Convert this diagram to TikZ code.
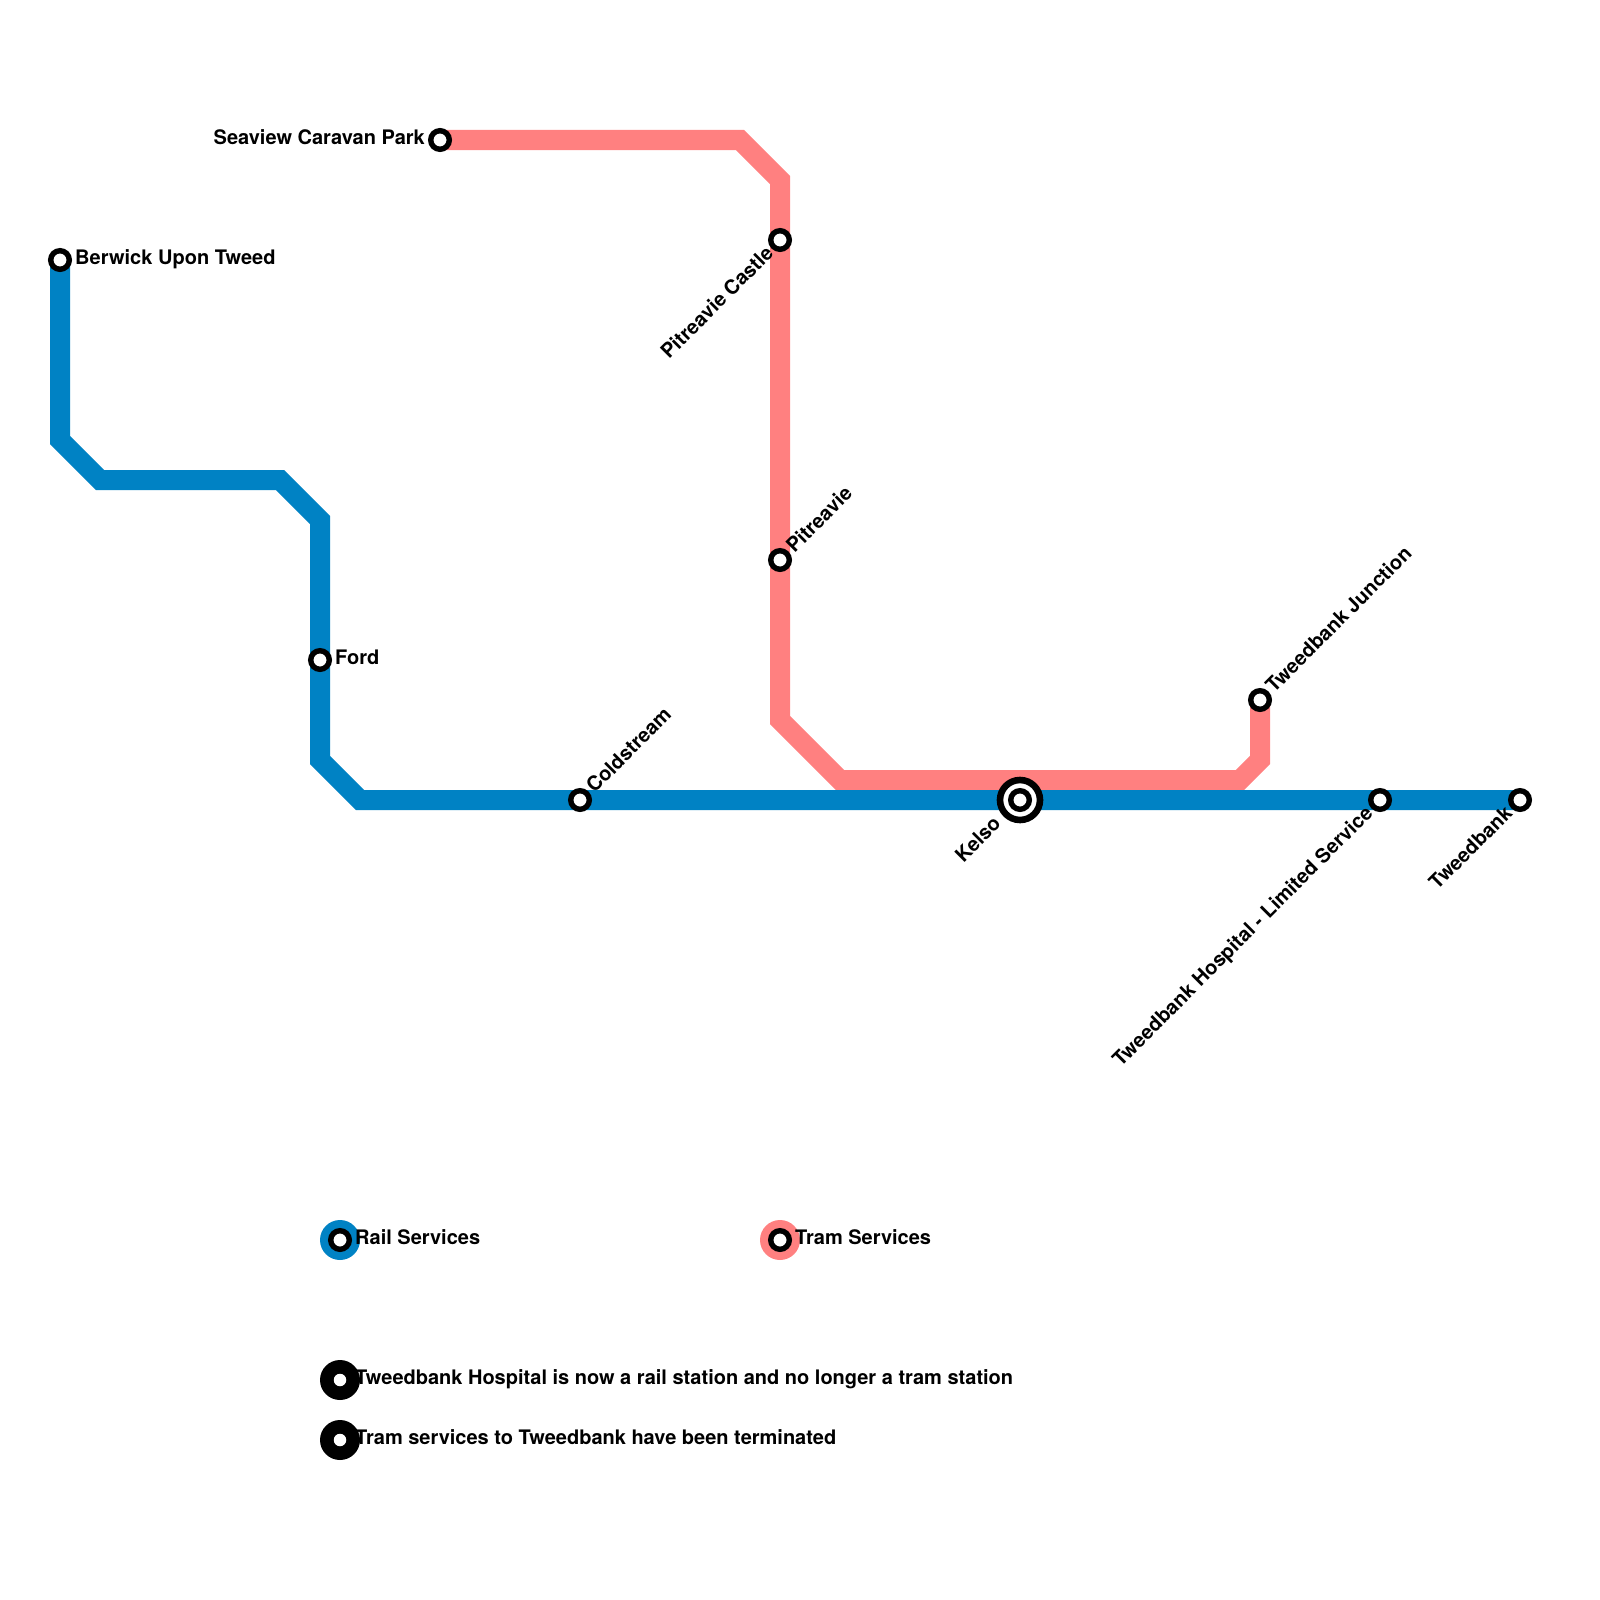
\documentclass[tikz,border=0pt]{standalone}
\usepackage{fontspec}
\setmainfont{TeX Gyre Heros}
\tikzset{
  x=1pt,y=-1pt,
  route/.style={line width=20pt,line join=miter,line cap=butt},
  rail/.style={route,draw=railblue},
  tram/.style={route,draw=trampink},
  station/.style={circle,fill=white,draw=black,line width=5.4pt,minimum size=18.6pt,inner sep=0pt,outer sep=0pt},
  interchange/.style={circle,fill=white,draw=black,line width=6.6pt,minimum size=40pt,inner sep=0pt,outer sep=0pt},
  lab/.style={font=\bfseries\fontsize{20}{22}\selectfont,inner sep=0pt,text=black},
  legdisc/.style={circle,minimum size=40pt,inner sep=0pt,outer sep=0pt},
  legdot/.style={circle,fill=white,minimum size=12.5pt,inner sep=0pt,outer sep=0pt},
}
\definecolor{railblue}{HTML}{0082C4}
\definecolor{trampink}{HTML}{FF8080}
\begin{document}
\begin{tikzpicture}
\useasboundingbox (0,0) rectangle (1600,1600);
\fill[white] (0,0) rectangle (1600,1600);
% tram route
\coordinate (t1) at (740,140);
\coordinate (t2) at (780,180);
\coordinate (t3) at (780,720);
\coordinate (t4) at (840,780);
\coordinate (t5) at (1240,780);
\coordinate (t6) at (1260,760);
\coordinate (seaview) at (440,140);
\coordinate (tj) at (1260,700);
\draw[tram] (seaview) -- (t1) -- (t2) -- (t3) -- (t4) -- (t5) -- (t6) -- (tj);
% rail route
\coordinate (r1) at (60,440);
\coordinate (r2) at (100,480);
\coordinate (r3) at (280,480);
\coordinate (r4) at (320,520);
\coordinate (r5) at (320,760);
\coordinate (r6) at (360,800);
\coordinate (berwick) at (60,260);
\coordinate (tweedbank) at (1520,800);
\draw[rail] (berwick) -- (r1) -- (r2) -- (r3) -- (r4) -- (r5) -- (r6) -- (tweedbank);
% stations
\node[station] (nBerwick) at (berwick) {};
\node[station] (nFord) at (320,660) {};
\node[station] (nCold) at (580,800) {};
\node[station] (nSea) at (seaview) {};
\node[station] (nCastle) at (780,240) {};
\node[station] (nPit) at (780,560) {};
\node[station] (nTJ) at (tj) {};
\node[station] (nHosp) at (1380,800) {};
\node[station] (nTweed) at (tweedbank) {};
\node[interchange] (nKelso) at (1020,800) {};
\node[station] (nKelsoIn) at (1020,800) {};
% labels
\node[lab,anchor=base west] (lBerwick) at (75,264.7) {Berwick Upon Tweed};
\node[lab,anchor=base west] (lFord) at (335,664.7) {Ford};
\node[lab,anchor=base east] (lSea) at (425,144.7) {Seaview Caravan Park};
\node[lab,anchor=base west,rotate=45] (lCold) at (594.5,794) {Coldstream};
\node[lab,anchor=base west,rotate=45] (lPit) at (794.5,554) {Pitreavie};
\node[lab,anchor=base west,rotate=45] (lTJ) at (1274,694) {Tweedbank Junction};
\node[lab,anchor=base east,rotate=45] (lCastle) at (774.5,254.5) {Pitreavie Castle};
\node[lab,anchor=base east,rotate=45] (lKelso) at (1002,825) {Kelso};
\node[lab,anchor=base east,rotate=45] (lHosp) at (1374,814.5) {Tweedbank Hospital - Limited Service};
\node[lab,anchor=base east,rotate=45] (lTweed) at (1513.5,814.5) {Tweedbank};
% legend
\node[legdisc,fill=railblue] (k1) at (340,1240) {};
\node[station] (k1s) at (340,1240) {};
\node[lab,anchor=base west] (k1t) at (355,1244.7) {Rail Services};
\node[legdisc,fill=trampink] (k2) at (780,1240) {};
\node[station] (k2s) at (780,1240) {};
\node[lab,anchor=base west] (k2t) at (795,1244.7) {Tram Services};
\node[legdisc,fill=black] (k3) at (340,1380) {};
\node[legdot] (k3s) at (340,1380) {};
\node[lab,anchor=base west] (k3t) at (355,1384.7) {Tweedbank Hospital is now a rail station and no longer a tram station};
\node[legdisc,fill=black] (k4) at (340,1440) {};
\node[legdot] (k4s) at (340,1440) {};
\node[lab,anchor=base west] (k4t) at (355,1444.7) {Tram services to Tweedbank have been terminated};
\end{tikzpicture}
\end{document}
